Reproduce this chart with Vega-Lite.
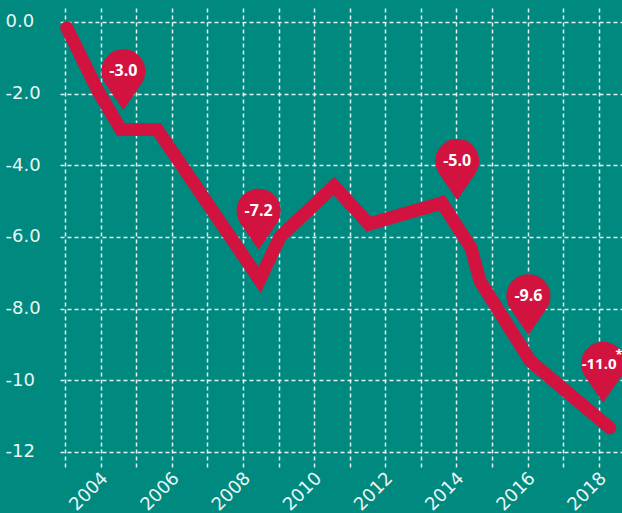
{
  "$schema": "https://vega.github.io/schema/vega-lite/v6.json",
  "width": 562,
  "height": 460,
  "autosize": {"type": "none"},
  "padding": {"left": 60, "top": 8, "right": 0, "bottom": 45},
  "background": "#00897F",
  "config": {
    "view": {"stroke": null},
    "font": "DejaVu Sans"
  },
  "datasets": {
    "line": [
      {"year": 2003.05, "value": -0.16},
      {"year": 2003.93, "value": -1.93},
      {"year": 2004.57, "value": -3.0},
      {"year": 2005.59, "value": -3.0},
      {"year": 2008.47, "value": -7.2},
      {"year": 2009.04, "value": -6.0},
      {"year": 2010.56, "value": -4.58},
      {"year": 2011.54, "value": -5.64},
      {"year": 2013.59, "value": -5.05},
      {"year": 2014.41, "value": -6.31},
      {"year": 2014.66, "value": -7.23},
      {"year": 2016.07, "value": -9.46},
      {"year": 2018.31, "value": -11.33}
    ],
    "pins": [
      {"year": 2004.64, "tip": -2.46, "label": "-3.0", "sup": ""},
      {"year": 2008.44, "tip": -6.36, "label": "-7.2", "sup": ""},
      {"year": 2014.02, "tip": -4.97, "label": "-5.0", "sup": ""},
      {"year": 2016.02, "tip": -8.74, "label": "-9.6", "sup": ""},
      {"year": 2018.12, "tip": -10.63, "label": "-11.0", "sup": "*"}
    ]
  },
  "resolve": {"axis": {"x": "independent"}},
  "layer": [
    {
      "data": {"name": "line"},
      "mark": {"type": "line", "color": "#D2123F", "strokeWidth": 13, "strokeCap": "round", "strokeJoin": "miter", "opacity": 0},
      "encoding": {
        "x": {
          "field": "year", "type": "quantitative",
          "scale": {"domain": [2002.86, 2018.65], "nice": false, "zero": false},
          "axis": {
            "title": null, "orient": "bottom",
            "values": [2003, 2004, 2005, 2006, 2007, 2008, 2009, 2010, 2011, 2012, 2013, 2014, 2015, 2016, 2017, 2018],
            "labels": false, "domain": false, "ticks": false,
            "grid": true, "gridColor": "#ffffff", "gridOpacity": 0.9, "gridWidth": 1.5, "gridDash": [4, 3]
          }
        },
        "y": {
          "field": "value", "type": "quantitative",
          "scale": {"domain": [-12.45, 0.39], "nice": false, "zero": false},
          "axis": {
            "title": null,
            "values": [-12, -10, -8, -6, -4, -2, 0],
            "labelExpr": "datum.value == 0 ? '0.0' : replace(format(datum.value, '.2r'), '\u2212', '-')",
            "domain": false, "ticks": false,
            "grid": true, "gridColor": "#ffffff", "gridOpacity": 0.9, "gridWidth": 1.5, "gridDash": [4, 3],
            "labelAlign": "left", "labelBaseline": "middle", "labelPadding": 55,
            "labelFont": "DejaVu Sans", "labelFontSize": 18, "labelColor": "#eaf6f4",
            "labelOverlap": false
          }
        }
      }
    },
    {
      "mark": {"type": "rule", "color": "#ffffff", "strokeWidth": 2},
      "encoding": {
        "x": {
          "datum": 2003.1, "type": "quantitative",
          "axis": {
            "title": null, "orient": "bottom",
            "values": [2004, 2006, 2008, 2010, 2012, 2014, 2016, 2018],
            "format": "d",
            "grid": false, "domain": false, "ticks": false,
            "labelAngle": -45, "labelAlign": "right", "labelBaseline": "top",
            "labelPadding": 1, "labelOffset": -2,
            "labelFont": "DejaVu Sans", "labelFontSize": 18, "labelColor": "#eaf6f4",
            "labelOverlap": false
          }
        },
        "x2": {"datum": 2018.65},
        "y": {"datum": 0, "type": "quantitative"}
      }
    },
    {
      "data": {"name": "line"},
      "mark": {"type": "line", "color": "#D2123F", "strokeWidth": 13, "strokeCap": "round", "strokeJoin": "miter"},
      "encoding": {
        "x": {"field": "year", "type": "quantitative", "axis": null},
        "y": {"field": "value", "type": "quantitative"}
      }
    },
    {
      "data": {"name": "pins"},
      "mark": {
        "type": "point", "filled": true, "color": "#D2123F", "opacity": 1, "strokeWidth": 0,
        "size": 3721,
        "shape": "M0,0L-0.596,-0.872A0.721,0.721,0,1,1,0.596,-0.872Z"
      },
      "encoding": {
        "x": {"field": "year", "type": "quantitative", "axis": null},
        "y": {"field": "tip", "type": "quantitative"}
      }
    },
    {
      "data": {"name": "pins"},
      "transform": [{"filter": "datum.sup == ''"}],
      "mark": {"type": "text", "color": "#ffffff", "font": "Open Sans", "fontSize": 16, "fontWeight": "bold", "dy": -39, "align": "center", "baseline": "middle"},
      "encoding": {
        "x": {"field": "year", "type": "quantitative", "axis": null},
        "y": {"field": "tip", "type": "quantitative"},
        "text": {"field": "label"}
      }
    },
    {
      "data": {"name": "pins"},
      "transform": [{"filter": "datum.sup != ''"}],
      "mark": {"type": "text", "color": "#ffffff", "font": "Open Sans", "fontSize": 15, "fontWeight": "bold", "dy": -39, "dx": -4, "align": "center", "baseline": "middle"},
      "encoding": {
        "x": {"field": "year", "type": "quantitative", "axis": null},
        "y": {"field": "tip", "type": "quantitative"},
        "text": {"field": "label"}
      }
    },
    {
      "data": {"name": "pins"},
      "transform": [{"filter": "datum.sup != ''"}],
      "mark": {"type": "text", "color": "#ffffff", "font": "Open Sans", "fontSize": 13, "fontWeight": "bold", "dy": -48, "dx": 16, "align": "center", "baseline": "middle"},
      "encoding": {
        "x": {"field": "year", "type": "quantitative", "axis": null},
        "y": {"field": "tip", "type": "quantitative"},
        "text": {"field": "sup"}
      }
    }
  ]
}
